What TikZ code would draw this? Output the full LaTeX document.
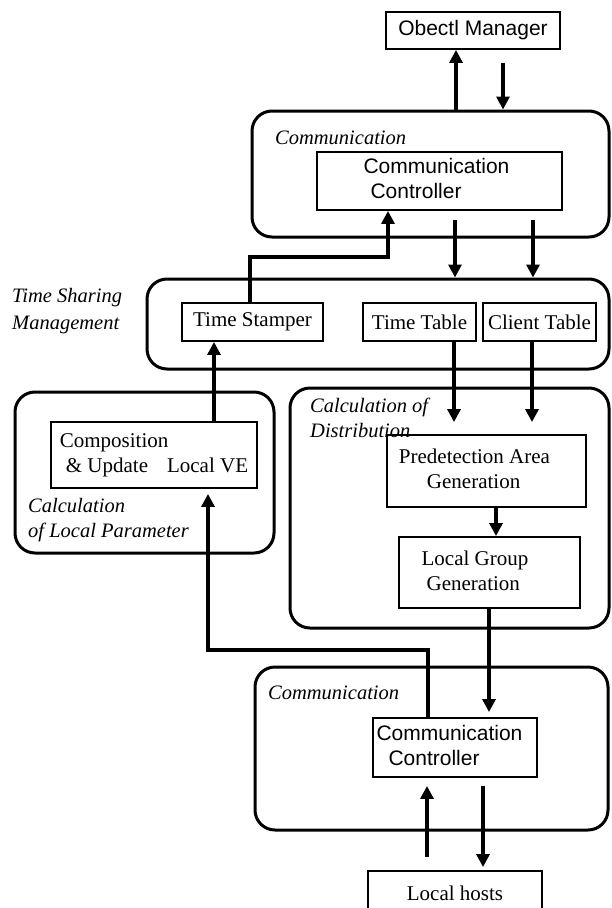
\documentclass[tikz,border=0pt]{standalone}
\usepackage{fontspec}
\setmainfont{Liberation Serif}
\setsansfont{Liberation Sans}
\usetikzlibrary{arrows.meta}
\begin{document}
\begin{tikzpicture}[x=1pt,y=-1pt,
  txt/.style={font=\fontsize{21}{25}\selectfont},
  sans/.style={font=\fontsize{21}{25}\selectfont\sffamily},
  box/.style={txt, draw, line width=1.9pt, inner sep=0pt, align=center},
  group/.style={draw, line width=3pt, rounded corners=20pt, inner sep=0pt},
  lbl/.style={inner sep=0pt, anchor=west, align=left, font=\fontsize{20.5}{25}\selectfont\itshape},
  arr/.style={line width=3.2pt, -{Triangle[length=13pt,width=13pt]}}]
\useasboundingbox (0,0) rectangle (611,908);
\fill[white] (0,0) rectangle (611,908);

% containers
\node[group, minimum width=357pt, minimum height=126pt] (gTop) at (430.5,174) {};
\node[group, minimum width=462pt, minimum height=90pt]  (gTS)  at (378,324) {};
\node[group, minimum width=259pt, minimum height=161pt] (gLP)  at (144.5,472.5) {};
\node[group, minimum width=319pt, minimum height=240pt] (gCD)  at (449.5,508) {};
\node[group, minimum width=353pt, minimum height=163pt] (gBot) at (431.5,748.5) {};

% labels
\node[lbl] (lTop) at (275,138) {Communication};
\node[lbl] (lTS)  at (12,311.5) {Time Sharing\\[2pt]Management};
\node[lbl] (lLP)  at (28,520.5) {Calculation\\of Local Parameter};
\node[lbl] (lCD)  at (310,417.5) {Calculation of\\Distribution};
\node[lbl] (lBot) at (268,693) {Communication};

% boxes
\node[box, sans, minimum width=174pt, minimum height=37pt] (OM) at (473,30.5) {Obectl Manager};
\node[box, sans, minimum width=245pt, minimum height=58pt] (CCt) at (439.5,181)
  {\begin{tabular}{@{}l@{\hspace{6pt}}}Communication\\\hspace*{7pt}Controller\end{tabular}};
\node[box, minimum width=141pt, minimum height=38pt] (TS) at (252.5,322) {Time Stamper};
\node[box, minimum width=113pt, minimum height=38pt] (TT) at (419.5,322) {Time Table};
\node[box, minimum width=113pt, minimum height=38pt] (CT) at (539.5,322) {Client Table};
\node[box, minimum width=206pt, minimum height=66pt] (Comp) at (154,455)
  {\begin{tabular}{@{}l@{}}Composition\\\hspace*{6pt}\& Update\hspace{19pt}Local VE\end{tabular}};
\node[box, minimum width=199pt, minimum height=72pt] (Pred) at (486.5,471)
  {\begin{tabular}{@{}l@{\hspace{24pt}}}Predetection Area\\\hspace*{28pt}Generation\end{tabular}};
\node[box, minimum width=181pt, minimum height=71pt] (LG) at (489.5,572.5)
  {\begin{tabular}{@{}l@{\hspace{29pt}}}Local Group\\\hspace*{5pt}Generation\end{tabular}};
\node[box, sans, minimum width=164pt, minimum height=59pt] (CCb) at (455,747.5)
  {\begin{tabular}{@{}l@{\hspace{11pt}}}Communication\\\hspace*{12pt}Controller\end{tabular}};
\node[box, minimum width=174pt, minimum height=44pt] (LH) at (455,893) {Local hosts};

% connector guide coordinates
\coordinate (xa) at (456,0);
\coordinate (xb) at (503,0);
\coordinate (xts) at (250,0);
\coordinate (xcc) at (388,0);
\coordinate (xd1) at (455,0);
\coordinate (xd2) at (533,0);
\coordinate (xt1) at (454,0);
\coordinate (xt2) at (532,0);
\coordinate (xcu) at (214,0);
\coordinate (xp) at (496,0);
\coordinate (xl) at (489,0);
\coordinate (xbu) at (428,0);
\coordinate (xcb) at (208,0);
\coordinate (xu) at (427,0);
\coordinate (xdn) at (483,0);
\coordinate (yh1) at (0,257);
\coordinate (yh2) at (0,650);

% connectors
\draw[arr] (xa |- gTop.north) -- (xa |- OM.south);
\draw[arr, shorten <=13pt] (xb |- OM.south) -- (xb |- gTop.north);
\draw[arr] (xts |- TS.north) -- (xts |- yh1) -- (xcc |- yh1) -- (xcc |- CCt.south);
\draw[arr, shorten <=9pt] (xd1 |- CCt.south) -- (xd1 |- gTS.north);
\draw[arr, shorten <=9pt] (xd2 |- CCt.south) -- (xd2 |- gTS.north);
\draw[arr, shorten >=12pt] (xt1 |- TT.south) -- (xt1 |- Pred.north);
\draw[arr, shorten >=12pt] (xt2 |- CT.south) -- (xt2 |- Pred.north);
\draw[arr] (xcu |- Comp.north) -- (xcu |- TS.south);
\draw[arr] (xp |- Pred.south) -- (xp |- LG.north);
\draw[arr, shorten >=5pt] (xl |- LG.south) -- (xl |- CCb.north);
\draw[arr, shorten >=5pt] (xbu |- CCb.north) -- (xbu |- yh2) -- (xcb |- yh2) -- (xcb |- Comp.south);
\draw[arr, shorten <=13pt, shorten >=8pt] (xu |- LH.north) -- (xu |- CCb.south);
\draw[arr, shorten <=8pt, shorten >=3pt] (xdn |- CCb.south) -- (xdn |- LH.north);
\end{tikzpicture}
\end{document}
